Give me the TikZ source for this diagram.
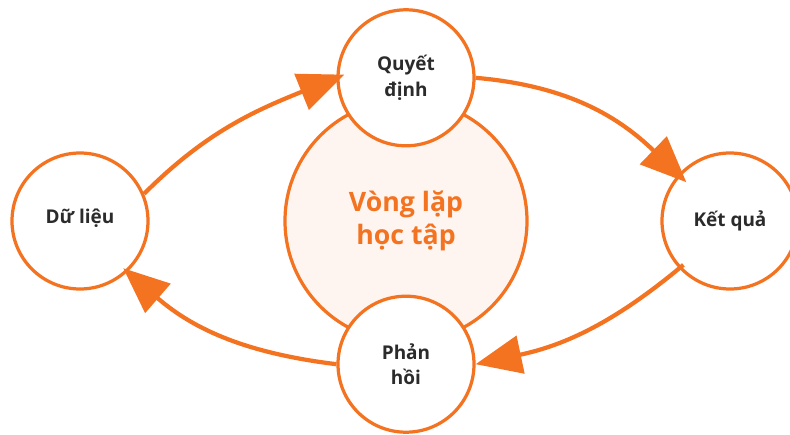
\documentclass[tikz,border=0pt]{standalone}
\usepackage{fontspec}
\setmainfont{Open Sans}
\usepackage{xcolor}
\definecolor{LoopOrange}{HTML}{F37321}
\definecolor{LoopPeach}{HTML}{FEF5F0}
\definecolor{LoopText}{HTML}{2B2B2B}
\usetikzlibrary{arrows.meta, positioning}
\tikzset{
    % Circles round the loop
    stage/.style={
        circle,
        draw=LoopOrange,
        fill=white,
        line width=2.3pt,
        minimum size=3.4cm,
        inner sep=0pt,
        align=center,
        text=LoopText,
        font=\fontsize{13.5}{18}\selectfont\bfseries
    },
    loop core/.style={
        circle,
        draw=LoopOrange,
        fill=LoopPeach,
        line width=2.3pt,
        minimum size=6.05cm,
        align=center,
        text=LoopOrange,
        font=\fontsize{19}{23}\selectfont\bfseries
    },
    flow arrow/.style={
        -{Triangle[length=11.5mm, width=9.5mm]},
        line width=3pt,
        LoopOrange
    }
}

\begin{document}
\begin{tikzpicture}
        \useasboundingbox (-10.15,-5.325) rectangle (9.6,5.525);

        % Center circle
        \node[loop core] (core) at (0, 0) {Vòng lặp\\học tập};

        % Stages
        \node[stage] (decision) at (0, 3.58) {Quyết\\định};
        \node[stage] (data) at (-8.15, 0) {\raisebox{7pt}{Dữ liệu}};
        \node[stage] (result) at (8.1, 0) {\raisebox{2pt}{Kết quả}};
        \node[stage] (feedback) at (0, -3.58) {Phản\\hồi};

        % Loop arrows
        \draw[flow arrow, shorten >=-6pt] (data.23) to[out=45, in=202] (decision.west);
        \draw[flow arrow, shorten >=-8pt] (decision.east) to[out=-5, in=136] (result.138);
        \draw[flow arrow, shorten <=-4pt] (result.223) to[out=220, in=12] (feedback.east);
        \draw[flow arrow, shorten >=-4pt] (feedback.west) to[out=173, in=-41] (data.-47);
    \end{tikzpicture}
\end{document}
